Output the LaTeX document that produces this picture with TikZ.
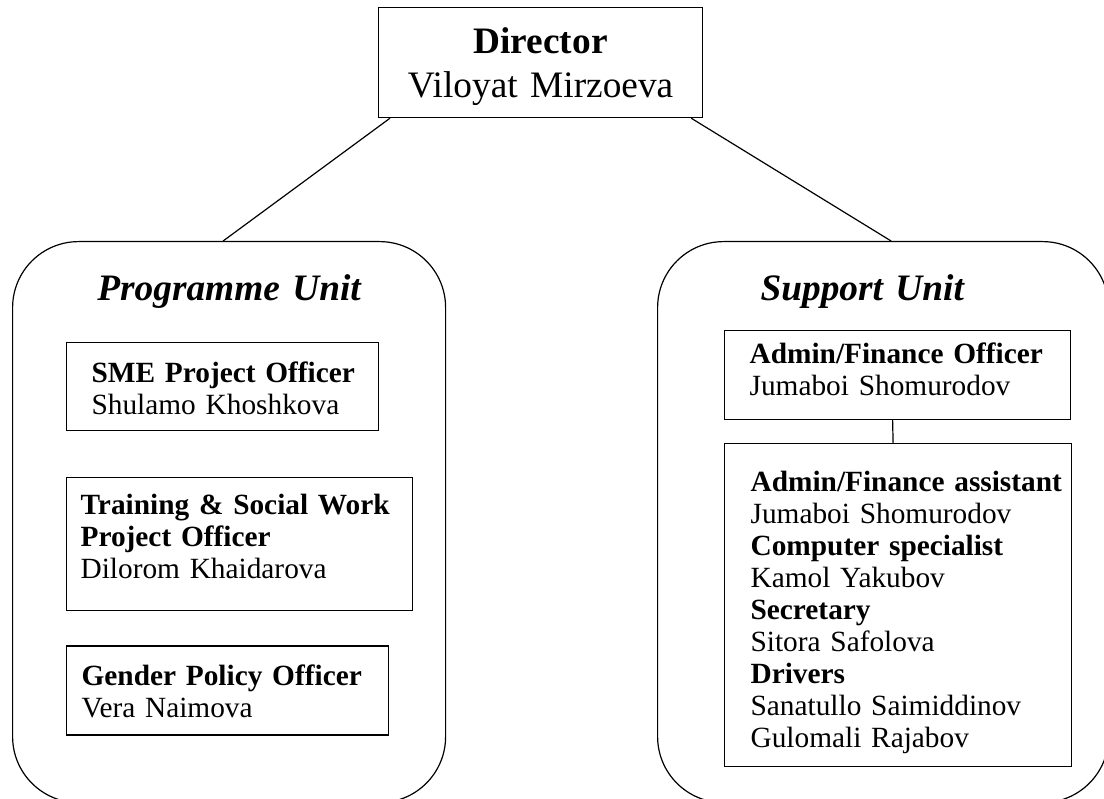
\documentclass[tikz,border=0pt]{standalone}
\usepackage{fontspec}
\setmainfont{Liberation Serif}
\usepackage{tikz}
\usetikzlibrary{positioning}

\newdimen\upx \upx=0.375pt
\newcommand\postfont{\fontsize{11pt}{12pt}\selectfont}
\newcommand\headfont{\fontsize{14pt}{16.5pt}\selectfont}

\begin{document}
\begin{tikzpicture}[x=\upx, y=-\upx, line width=0.45pt,
    unit/.style={draw, rounded corners=66\upx, anchor=north west, inner sep=0pt,
      font=\headfont\bfseries\itshape},
    post/.style={draw, anchor=north west, inner sep=0pt, align=left, font=\postfont},
    lpad/.style={execute at begin node={\leftskip=#1\upx}}]
  \useasboundingbox (0,0) rectangle (1104,798);

  \node[draw, anchor=north west, inner sep=0pt, align=center, font=\headfont,
    text width=324\upx, text height=46\upx, text depth=64\upx]
    (dir) at (378,7) {\textbf{Director}\\Viloyat Mirzoeva};

  % the two units
  \node[unit, align=center, text width=433\upx, text height=59\upx, text depth=502\upx]
    (prog) at (12,241) {Programme Unit};
  \node[unit, align=left, lpad=103, text width=451\upx, text height=59\upx, text depth=502\upx]
    (supp) at (657,241) {Support Unit};

  % programme unit staff
  \node[post, lpad=25, text width=312\upx, text height=40\upx, text depth=48\upx]
    (sme) at (66,342) {\textbf{SME Project Officer}\\Shulamo Khoshkova};
  \node[post, lpad=14, text width=346\upx, text height=37\upx, text depth=96\upx,
    below=46\upx of sme.south west, anchor=north west]
    (train) {\textbf{Training \& Social Work}\\\textbf{Project Officer}\\Dilorom Khaidarova};
  \node[post, lpad=15, text width=322\upx, text height=39\upx, text depth=50\upx,
    below=34\upx of train.south west, anchor=north west]
    (gender) {\textbf{Gender Policy Officer}\\Vera Naimova};

  % support unit staff
  \node[post, lpad=25, text width=346\upx, text height=33\upx, text depth=56\upx]
    (offi) at (724,330) {\textbf{Admin/Finance Officer}\\Jumaboi Shomurodov};
  \node[post, lpad=26, text width=347\upx, text height=48\upx, text depth=275\upx,
    below=23\upx of offi.south west, anchor=north west]
    (staff) {\textbf{Admin/Finance assistant}\\Jumaboi Shomurodov\\
      \textbf{Computer specialist}\\Kamol Yakubov\\
      \textbf{Secretary}\\Sitora Safolova\\
      \textbf{Drivers}\\Sanatullo Saimiddinov\\Gulomali Rajabov};

  \draw ([xshift=12\upx]dir.south west) -- ([xshift=-6\upx]prog.north);
  \draw ([xshift=-12\upx]dir.south east) -- ([xshift=8\upx]supp.north);
  \draw ([xshift=-5\upx]offi.south) -- ([xshift=-5\upx]staff.north);
\end{tikzpicture}
\end{document}
